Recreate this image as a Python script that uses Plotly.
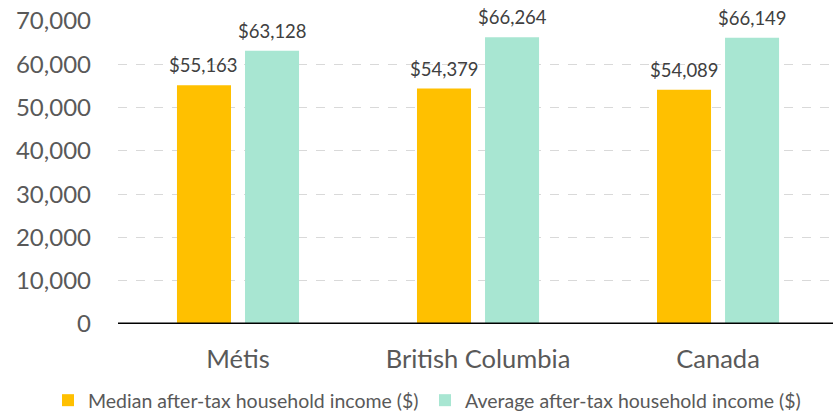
import plotly.graph_objects as go

categories = ["Métis", "British Columbia", "Canada"]
median_income = [55163, 54379, 54089]
average_income = [63128, 66264, 66149]
series_names = ["Median after-tax household income ($)", "Average after-tax household income ($)"]
y_ticks = [0, 10000, 20000, 30000, 40000, 50000, 60000, 70000]

FONT = "Lato"
GREY = "#595959"
LABEL = "#404040"
BARGAP = 0.433

fig = go.Figure()
fig.add_trace(go.Bar(
    x=categories, y=median_income, name=series_names[0],
    marker=dict(color="#FFC000", line=dict(width=0)), legend="legend",
))
fig.add_trace(go.Bar(
    x=categories, y=average_income, name=series_names[1],
    marker=dict(color="#A8E6D2", line=dict(width=0)), legend="legend2",
))

# bar value labels as annotations, anchored to the data values
slot = (1 - BARGAP) / 2  # width of one series' slot within a category
for i, cat in enumerate(categories):
    for k, vals in enumerate([median_income, average_income]):
        fig.add_annotation(
            x=i + (k - 0.5) * slot, y=vals[i], xref="x", yref="y",
            text=f"${vals[i]:,}", showarrow=False, yanchor="middle", yshift=20,
            font=dict(family=FONT, size=18.5, color=LABEL),
        )

legend_common = dict(orientation="h", xref="container", yref="container",
                     y=-0.03, yanchor="bottom", xanchor="left",
                     font=dict(family=FONT, size=19.5, color=GREY), itemwidth=30)

fig.update_layout(
    width=833, height=420,
    margin=dict(l=118, r=0, t=21, b=96),
    paper_bgcolor="white", plot_bgcolor="white",
    barmode="group", bargap=BARGAP, bargroupgap=0.206,
    font=dict(family=FONT, color=GREY),
    showlegend=True,
    legend=dict(x=48 / 833, **legend_common),
    legend2=dict(x=425 / 833, **legend_common),
    xaxis=dict(range=[-0.5, 2.479], showgrid=False, showline=False, zeroline=False,
               ticks="", tickfont=dict(family=FONT, size=25.5, color=GREY),
               ticklabelstandoff=17, automargin=False),
    yaxis=dict(range=[0, 70000], tickvals=y_ticks, tickformat=",",
               showgrid=True, gridcolor="#D9D9D9", griddash="dash", gridwidth=1,
               zeroline=False, showline=False, ticks="",
               tickfont=dict(family=FONT, size=24, color=GREY),
               ticklabelstandoff=26, automargin=False),
)
fig.add_shape(type="line", xref="paper", yref="y", x0=0, x1=1, y0=0, y1=0,
              line=dict(color="black", width=3), layer="above")

fig.write_html("out.html", config={"displayModeBar": False},
               post_script="document.body.style.margin='0';")
